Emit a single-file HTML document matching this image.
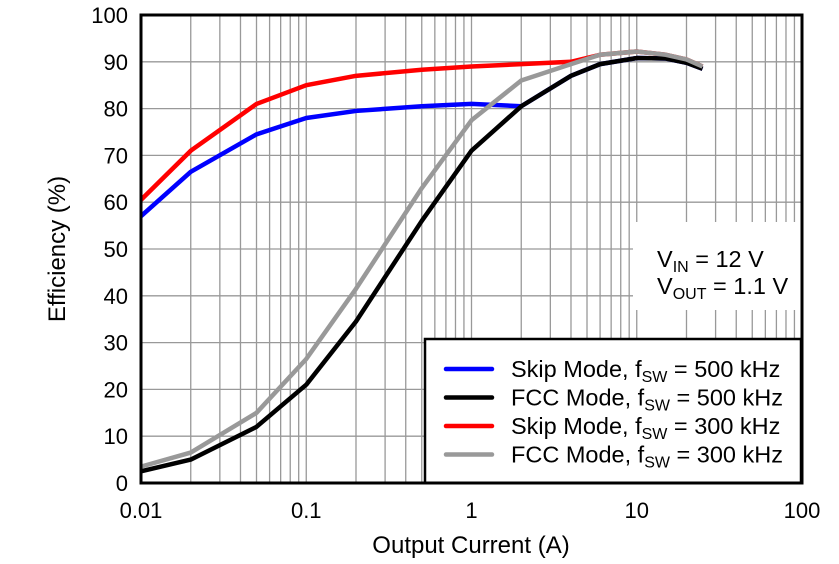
<!DOCTYPE html>
<html><head><meta charset="utf-8"><style>
body{margin:0;background:#fff;}
svg text{font-family:"Liberation Sans",Arial,sans-serif;fill:#000;}
</style></head><body>
<svg id="chart" width="839" height="559" xmlns="http://www.w3.org/2000/svg">
<g id="grid"></g>
<g id="series"></g>
<g id="ann">
<rect x="633" y="222" width="168" height="88" fill="#fff"/>
<text x="657" y="267" font-size="23.5">V<tspan font-size="16" dy="5">IN</tspan><tspan dy="-5"> = 12 V</tspan></text>
<text x="657" y="294" font-size="23.5">V<tspan font-size="16" dy="5">OUT</tspan><tspan dy="-5"> = 1.1 V</tspan></text>
</g>
<g id="legend"></g>
<rect x="141" y="15" width="661" height="468" fill="none" stroke="#000" stroke-width="3"/>
<g id="axes"></g>
<text x="471" y="553" font-size="24" text-anchor="middle">Output Current (A)</text>
<text transform="translate(65,249) rotate(-90)" font-size="24" text-anchor="middle">Efficiency (%)</text>
</svg>
<script>
const xTicks=[0.01,0.1,1,10,100];
const xTickLabels=["0.01","0.1","1","10","100"];
const yTicks=[0,10,20,30,40,50,60,70,80,90,100];
const seriesNames=["Skip Mode, f","FCC Mode, f","Skip Mode, f","FCC Mode, f"];
const seriesFreq=["500 kHz","500 kHz","300 kHz","300 kHz"];
const seriesColors=["#0000ff","#000000","#ff0000","#999999"];
const currents=[0.01,0.02,0.05,0.1,0.2,0.5,1,2,4,6,10,15,20,25];
const skip500=[57,66.5,74.5,78,79.5,80.5,81,80.5,87,89.5,90.8,90.7,89.8,88.5];
const fcc500=[2.5,5,12,21,34.5,56,71,80.5,87,89.5,90.8,90.7,89.8,88.5];
const skip300=[60.5,71,81,85,87,88.3,89,89.5,90,91.5,92.2,91.5,90.5,89];
const fcc300=[3.5,6.5,15,26.5,41.5,63,77.5,86,89.5,91.5,92.2,91.5,90.5,89];
const L=141,R=802,T=15,B=483;
const xs=v=>L+(Math.log10(v)+2)/4*(R-L);
const ys=v=>B-v/100*(B-T);
const NS="http://www.w3.org/2000/svg";
function mk(tag,attrs,parent){const e=document.createElementNS(NS,tag);for(const k in attrs)e.setAttribute(k,attrs[k]);parent.appendChild(e);return e;}
const grid=document.getElementById('grid');
for(let d=-2;d<2;d++)for(let m=1;m<10;m++){const v=m*Math.pow(10,d);if(v<=0.01)continue;
const l=mk('line',{x1:xs(v),x2:xs(v),y1:T,y2:B,stroke:'#999','stroke-width':1.3},grid);

}
yTicks.forEach(v=>{if(v==0||v==100)return;const l=mk('line',{x1:L,x2:R,y1:ys(v),y2:ys(v),stroke:'#999','stroke-width':1.3},grid);

});
const axes=document.getElementById('axes');
xTicks.forEach((v,i)=>{const t=mk('text',{x:xs(v),y:518,'font-size':22,'text-anchor':'middle'},axes);t.textContent=xTickLabels[i];

});
yTicks.forEach(v=>{const t=mk('text',{x:128,y:ys(v)+8,'font-size':22,'text-anchor':'end'},axes);t.textContent=v;

});
const sg=document.getElementById('series');
const data=[skip500,skip300,fcc500,fcc300];const cols=[seriesColors[0],seriesColors[2],seriesColors[1],seriesColors[3]];
const names=['skip-500khz-line','skip-300khz-line','fcc-500khz-line','fcc-300khz-line'];
data.forEach((s,i)=>{const p=mk('polyline',{points:currents.map((c,j)=>xs(c)+','+ys(s[j])).join(' '),fill:'none',stroke:cols[i],'stroke-width':4.5,'stroke-linejoin':'round'},sg);

});
const lg=document.getElementById('legend');
mk('rect',{x:425,y:339,width:376,height:144,fill:'#fff',stroke:'#000','stroke-width':2.5},lg);
seriesNames.forEach((n,i)=>{const y=369+i*28.5;
const l=mk('line',{x1:446,x2:492,y1:y,y2:y,stroke:seriesColors[i],'stroke-width':4.5,'stroke-linecap':'round'},lg);


const t=mk('text',{x:511,y:y+8,'font-size':23.5},lg);
t.innerHTML=n+'<tspan font-size="16" dy="5">SW</tspan><tspan dy="-5"> = '+seriesFreq[i]+'</tspan>';

});
</script>
</body></html>
